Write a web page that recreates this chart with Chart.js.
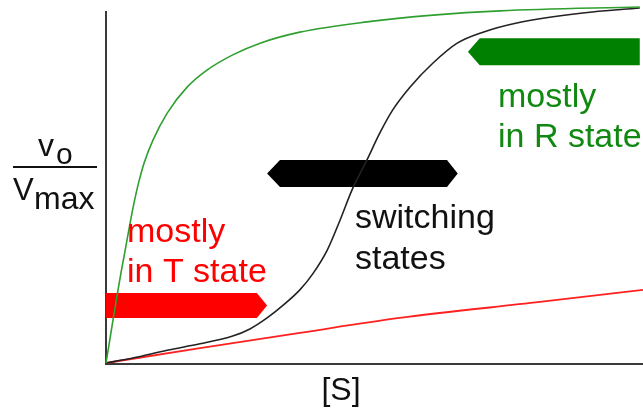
<!DOCTYPE html>
<html lang="en">
<head>
  <meta charset="UTF-8">
  <title>v0/Vmax vs [S]</title>
  <script src="https://cdn.jsdelivr.net/npm/chart.js"></script>
  <style>
    html, body { margin: 0; padding: 0; background: #fff; }
  </style>
</head>
<body>
  <canvas id="chart" width="643" height="410"></canvas>

  <script>
    // [S] and v0/Vmax, both as % of the axis length
    const rStateS = [0, 0.56, 1.3, 2.05, 2.79, 3.54, 4.28, 5.03, 5.96, 7.08, 8.75, 11.4, 15.1, 18.8, 23.6, 28.7, 36.1, 48.6, 60.9, 73.4, 99.4];
    const rStateV = [0, 5.1, 12.1, 18.9, 25.4, 31.5, 37.7, 43.7, 50.1, 56.3, 62.8, 70.4, 77.7, 82.5, 86.8, 90.1, 93.2, 96.1, 98.0, 99.2, 100.3];

    const allostericS = [0, 5.0, 11.4, 17.5, 23.6, 26.8, 30.0, 33.0, 36.1, 38.5, 41.2, 43.6, 45.8, 48.6, 51.0, 53.4, 56.6, 60.9, 65.4, 70.2, 76.5, 88.8, 99.4];
    const allostericV = [0, 1.4, 3.6, 5.4, 7.6, 9.6, 12.7, 16.3, 20.6, 25.1, 31.8, 40.3, 48.7, 57.2, 64.8, 71.3, 77.7, 84.5, 90.1, 93.2, 95.8, 98.6, 100];

    const tStateS = [0, 17.5, 36.1, 54.7, 80.8, 100];
    const tStateV = [0, 4.2, 8.5, 12.7, 17.2, 20.6];

    const toPoints = (xs, ys) => xs.map((v, i) => ({ x: v, y: ys[i] }));

    // arrows: left tip, left body, right body, right tip, centre, half height (data units)
    const arrows = [
      { tipL: 0, bodyL: 0, bodyR: 28.1, tipR: 30.0, yc: 16.2, h: 3.5, color: '#ff0000' },
      { tipL: 30.0, bodyL: 32.4, bodyR: 63.5, tipR: 65.5, yc: 53.4, h: 3.8, color: '#000000' },
      { tipL: 67.4, bodyL: 69.6, bodyR: 99.4, tipR: 99.4, yc: 87.7, h: 3.8, color: '#008000' }
    ];

    const notes = {
      id: 'notes',
      beforeDatasetsDraw(chart) {
        const { ctx, chartArea, scales: { x, y } } = chart;
        // axes
        ctx.save();
        ctx.strokeStyle = '#3a3a3a';
        ctx.lineWidth = 2;
        ctx.beginPath();
        ctx.moveTo(chartArea.left, 11);
        ctx.lineTo(chartArea.left, chartArea.bottom + 1);
        ctx.lineTo(chartArea.right, chartArea.bottom + 1);
        ctx.stroke();

        arrows.forEach(a => {
          const yc = y.getPixelForValue(a.yc);
          const top = y.getPixelForValue(a.yc + a.h);
          const bot = y.getPixelForValue(a.yc - a.h);
          ctx.fillStyle = a.color;
          ctx.beginPath();
          ctx.moveTo(x.getPixelForValue(a.tipL), yc);
          ctx.lineTo(x.getPixelForValue(a.bodyL), top);
          ctx.lineTo(x.getPixelForValue(a.bodyR), top);
          ctx.lineTo(x.getPixelForValue(a.tipR), yc);
          ctx.lineTo(x.getPixelForValue(a.bodyR), bot);
          ctx.lineTo(x.getPixelForValue(a.bodyL), bot);
          ctx.closePath();
          ctx.fill();
        });
        ctx.restore();
      },
      afterDraw(chart) {
        const ctx = chart.ctx;
        const font = '"Liberation Sans", Arial, sans-serif';
        ctx.save();
        ctx.textBaseline = 'alphabetic';
        ctx.textAlign = 'left';
        ctx.font = '34px ' + font;

        ctx.fillStyle = '#ff0000';
        ctx.fillText('mostly', 127, 242);
        ctx.fillText('in T state', 127, 282);

        ctx.fillStyle = '#111111';
        ctx.fillText('switching', 355, 228);
        ctx.fillText('states', 355, 269);

        ctx.fillStyle = '#118811';
        ctx.fillText('mostly', 498, 107);
        ctx.fillText('in R state', 498, 147);

        // y label as a fraction
        ctx.fillStyle = '#111111';
        ctx.font = '32px ' + font;
        ctx.fillText('v', 38, 156);
        ctx.font = '30px ' + font;
        ctx.fillText('o', 56, 164);
        ctx.fillRect(13, 166, 84, 2);
        ctx.font = '31px ' + font;
        ctx.fillText('V', 13, 200);
        ctx.font = '32px ' + font;
        ctx.fillText('max', 34, 209);

        // x label
        ctx.textAlign = 'center';
        ctx.fillText('[S]', 341, 400);
        ctx.restore();
      }
    };

    new Chart(document.getElementById('chart'), {
      type: 'line',
      data: {
        datasets: [
          { label: 'R state', data: toPoints(rStateS, rStateV), borderColor: '#2f9f2f', borderWidth: 1.6 },
          { label: 'allosteric', data: toPoints(allostericS, allostericV), borderColor: '#222222', borderWidth: 1.6 },
          { label: 'T state', data: toPoints(tStateS, tStateV), borderColor: '#ff2020', borderWidth: 1.8 }
        ]
      },
      options: {
        responsive: false,
        animation: false,
        devicePixelRatio: 1,
        layout: { padding: { left: 106, right: 0, top: 8, bottom: 47 } },
        elements: {
          point: { radius: 0 },
          line: { cubicInterpolationMode: 'monotone', fill: false }
        },
        datasets: { line: { clip: false } },
        scales: {
          x: { type: 'linear', min: 0, max: 100, display: false },
          y: { min: 0, max: 100, display: false }
        },
        plugins: {
          legend: { display: false },
          tooltip: { enabled: false }
        }
      },
      plugins: [notes]
    });
  </script>
</body>
</html>
